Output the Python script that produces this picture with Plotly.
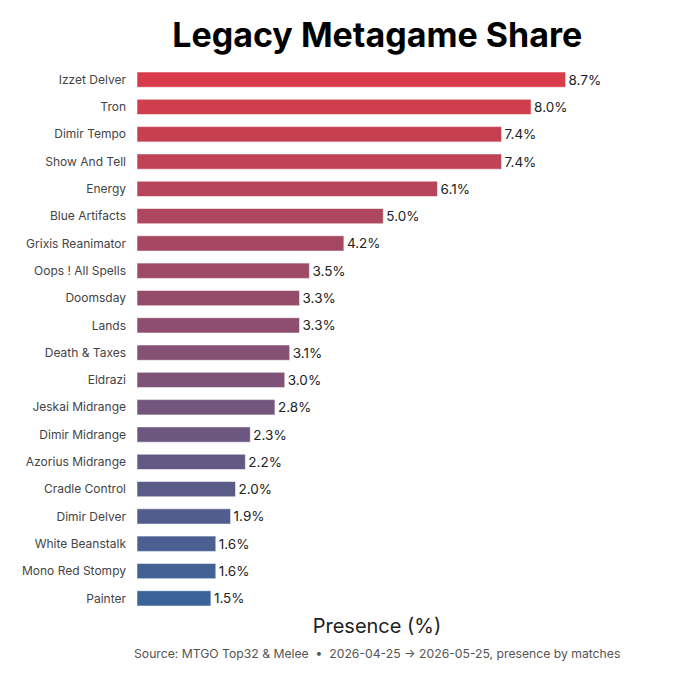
import plotly.graph_objects as go

# Data (top to bottom as shown)
archetypes = [
    "Izzet Delver", "Tron", "Dimir Tempo", "Show And Tell", "Energy",
    "Blue Artifacts", "Grixis Reanimator", "Oops ! All Spells", "Doomsday", "Lands",
    "Death & Taxes", "Eldrazi", "Jeskai Midrange", "Dimir Midrange", "Azorius Midrange",
    "Cradle Control", "Dimir Delver", "White Beanstalk", "Mono Red Stompy", "Painter",
]
presence = [8.7, 8.0, 7.4, 7.4, 6.1, 5.0, 4.2, 3.5, 3.3, 3.3,
            3.1, 3.0, 2.8, 2.3, 2.2, 2.0, 1.9, 1.6, 1.6, 1.5]
value_labels = [f"{v:.1f}%" for v in presence]

title_text = "Legacy Metagame Share"
axis_title = "Presence (%)"
source_text = "Source: MTGO Top32 & Melee  \u2022  2026-04-25 \u2192 2026-05-25, presence by matches"

# Gradient red -> blue down the list
top_rgb = (216, 60, 74)
bot_rgb = (58, 99, 153)
n = len(archetypes)
colors = []
for i in range(n):
    t = i / (n - 1)
    c = [round(a + (b - a) * t) for a, b in zip(top_rgb, bot_rgb)]
    colors.append(f"rgb({c[0]},{c[1]},{c[2]})")

fig = go.Figure(go.Bar(
    x=presence,
    y=archetypes,
    orientation="h",
    width=0.56,
    marker=dict(color=colors, line=dict(color="rgba(255,255,255,0.55)", width=1)),
    text=value_labels,
    textposition="outside",
    constraintext="none",
    textfont=dict(family="Inter", size=13.5, color="#222"),
    cliponaxis=False,
))

# page body adds an 8px offset, so margins are shifted to compensate
fig.update_layout(
    width=680, height=680,
    paper_bgcolor="white", plot_bgcolor="white",
    margin=dict(l=129, r=71, t=58, b=76),
    title=dict(text=f"<b>{title_text}</b>", x=0.543, xanchor="center", y=0.978, yanchor="top",
               font=dict(family="Inter", size=34, color="black")),
    font=dict(family="Inter"),
    showlegend=False,
    xaxis=dict(range=[0, max(presence) * 1.12], showgrid=False, zeroline=False,
               showticklabels=False, ticks="", showline=False,
               title=dict(text=axis_title, font=dict(family="Inter", size=20, color="#222"), standoff=6)),
    yaxis=dict(autorange="reversed", showgrid=False, ticks="", showline=False,
               tickfont=dict(family="Inter", size=12, color="#444"), ticklabelstandoff=10),
    annotations=[dict(text=source_text, xref="paper", yref="paper", x=0.5, y=-0.059,
                      xanchor="center", yanchor="top", showarrow=False,
                      font=dict(family="Inter", size=12.2, color="#555"))],
)

fig.write_html("out.html")
